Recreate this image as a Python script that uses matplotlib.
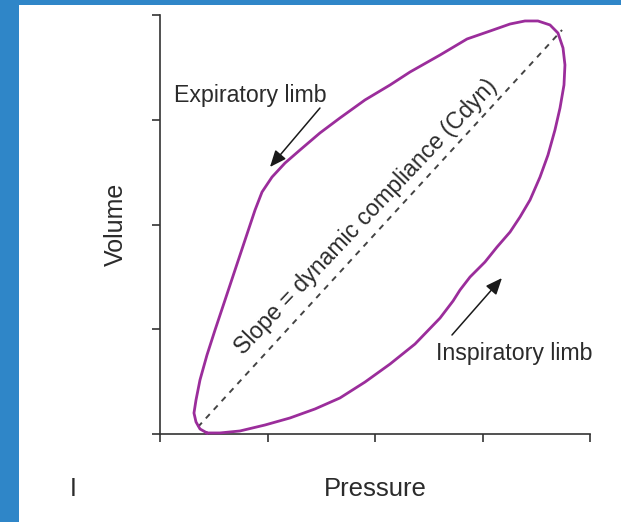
import matplotlib
matplotlib.use("Agg")
import matplotlib.pyplot as plt
from matplotlib.patches import Rectangle

# Pressure-volume loop (arbitrary units), traced counter-clockwise:
# inspiratory limb along the bottom, expiratory limb back along the top.
pressure = [0.437, 0.558, 0.744, 0.977, 1.209, 1.442, 1.674, 1.907, 2.140, 2.372,
            2.605, 2.726, 2.791, 2.884, 3.023, 3.135, 3.256, 3.349, 3.442, 3.535,
            3.609, 3.674, 3.721, 3.758, 3.767, 3.749, 3.702, 3.628, 3.516, 3.395,
            3.256, 3.070, 2.856, 2.605, 2.326, 2.140, 1.907, 1.674, 1.488, 1.302,
            1.163, 1.042, 0.949, 0.884, 0.791, 0.698, 0.605, 0.512, 0.437, 0.372,
            0.335, 0.316, 0.335, 0.372, 0.437]
volume = [0.010, 0.010, 0.029, 0.086, 0.153, 0.239, 0.344, 0.496, 0.668, 0.859,
          1.107, 1.270, 1.375, 1.499, 1.642, 1.785, 1.928, 2.072, 2.234, 2.453,
          2.663, 2.902, 3.112, 3.332, 3.523, 3.685, 3.828, 3.905, 3.943, 3.943,
          3.914, 3.847, 3.771, 3.618, 3.456, 3.332, 3.189, 3.017, 2.874, 2.711,
          2.587, 2.453, 2.310, 2.138, 1.852, 1.566, 1.279, 0.993, 0.754, 0.516,
          0.325, 0.200, 0.115, 0.048, 0.010]

# Dynamic compliance line joining the end-expiratory and end-inspiratory points
cdyn_pressure = [0.353, 3.740]
cdyn_volume = [0.067, 3.857]

ticks = [0, 1, 2, 3, 4]

FONT = ["Liberation Sans", "DejaVu Sans"]
TEXT = "#2b2b2b"
AXIS = "#333333"
LOOP = "#9b2d9b"

plt.rcParams["font.family"] = FONT

fig = plt.figure(figsize=(6.21, 5.22), dpi=100)
fig.patch.set_facecolor("white")

# Blue frame strips (left and top)
fig.patches.append(Rectangle((0, 0), 19 / 621, 1, transform=fig.transFigure,
                             facecolor="#2f86c8", edgecolor="none", zorder=0))
fig.patches.append(Rectangle((0, 1 - 5 / 522), 1, 5 / 522, transform=fig.transFigure,
                             facecolor="#2f86c8", edgecolor="none", zorder=0))

ax = fig.add_axes([160 / 621, 88 / 522, 430 / 621, 419 / 522])
ax.set_xlim(0, 4)
ax.set_ylim(0, 4)
for side in ("top", "right"):
    ax.spines[side].set_visible(False)
for side in ("left", "bottom"):
    ax.spines[side].set_color(AXIS)
    ax.spines[side].set_linewidth(1.2)
ax.set_xticks(ticks)
ax.set_yticks(ticks)
ax.set_xticklabels([])
ax.set_yticklabels([])
ax.tick_params(length=6, width=1.2, color=AXIS)
ax.patch.set_alpha(0)

ax.plot(pressure, volume, color=LOOP, lw=2.0, solid_joinstyle="round",
        clip_on=False, zorder=3)
ax.plot(cdyn_pressure, cdyn_volume, color="#444444", lw=1.4,
        dashes=(3, 3), clip_on=False, zorder=2)

ax.text(1.960, 2.030, "Slope = dynamic compliance (Cdyn)", rotation=46.5,
        rotation_mode="anchor", ha="center", va="baseline", fontsize=16.7,
        color=TEXT)

ax.text(0.13, 3.236, "Expiratory limb", ha="left", va="center",
        fontsize=16.7, color=TEXT)
ax.annotate("", xy=(1.023, 2.549), xytext=(1.488, 3.112),
            arrowprops=dict(arrowstyle="-|>,head_length=1.0,head_width=0.42",
                            color="#1a1a1a", lw=1.1, shrinkA=0, shrinkB=0))

ax.text(2.567, 0.764, "Inspiratory limb", ha="left", va="center",
        fontsize=16.7, color=TEXT)
ax.annotate("", xy=(3.181, 1.489), xytext=(2.716, 0.945),
            arrowprops=dict(arrowstyle="-|>,head_length=1.0,head_width=0.42",
                            color="#1a1a1a", lw=1.1, shrinkA=0, shrinkB=0))

fig.text(375 / 621, 1 - 489 / 522, "Pressure", ha="center", va="center",
         fontsize=18.5, color=TEXT)
fig.text(116 / 621, 1 - 224 / 522, "Volume", ha="center", va="center",
         rotation=90, fontsize=18, color=TEXT)
fig.text(73 / 621, 1 - 489 / 522, "I", ha="center", va="center",
         fontsize=18, color=TEXT)

fig.savefig("out.png", dpi=100)
